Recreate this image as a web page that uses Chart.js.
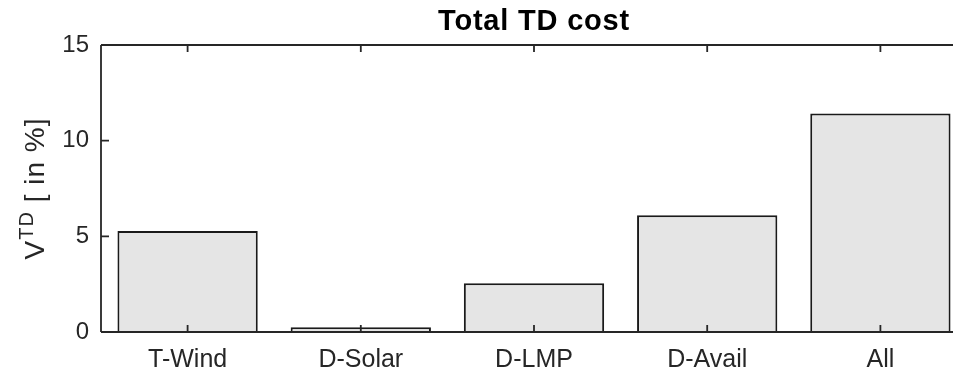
<!DOCTYPE html>
<html>
<head>
<meta charset="utf-8">
<script src="https://cdn.jsdelivr.net/npm/chart.js@4/dist/chart.umd.min.js"></script>
<style>
  html, body { margin: 0; padding: 0; background: #ffffff; }
  body { width: 953px; height: 374px; overflow: hidden; }
  #wrap { width: 968px; height: 374px; }
</style>
</head>
<body>
<div id="wrap"><canvas id="c" width="968" height="374"></canvas></div>
<script>
// Scenario names along the horizontal axis
const categories = ['T-Wind', 'D-Solar', 'D-LMP', 'D-Avail', 'All'];
// Relative total TD cost per scenario, in percent
const costValues = [5.28, 0.25, 2.55, 6.1, 11.42];
// Value axis ticks
const yTicks = [0, 5, 10, 15];
const chartTitle = 'Total TD cost';

const AXIS_COLOR = '#262626';
const FONT = '"Liberation Sans", Arial, Helvetica, sans-serif';

// Boxed axes with inward tick marks, drawn from the scales
const boxAxes = {
  id: 'boxAxes',
  afterDatasetsDraw(chart) {
    const { ctx, chartArea: a, scales: { x, y } } = chart;
    ctx.save();
    ctx.strokeStyle = AXIS_COLOR;
    ctx.lineWidth = 1.8;
    ctx.beginPath();
    ctx.moveTo(a.left, a.top); ctx.lineTo(a.left, a.bottom);
    ctx.moveTo(a.left, a.bottom); ctx.lineTo(a.right, a.bottom);
    ctx.moveTo(a.left, a.top); ctx.lineTo(a.right, a.top);
    ctx.moveTo(a.right, a.top); ctx.lineTo(a.right, a.bottom);
    // x ticks, bottom and top
    x.ticks.forEach((t, i) => {
      const px = x.getPixelForTick(i);
      ctx.moveTo(px, a.bottom); ctx.lineTo(px, a.bottom - 7);
      ctx.moveTo(px, a.top); ctx.lineTo(px, a.top + 7);
    });
    // y ticks, left and right
    yTicks.forEach(v => {
      const py = y.getPixelForValue(v);
      ctx.moveTo(a.left, py); ctx.lineTo(a.left + 8, py);
      ctx.moveTo(a.right, py); ctx.lineTo(a.right - 8, py);
    });
    ctx.stroke();
    ctx.restore();
  }
};

// Title centred over the plot area, and the rotated y label with a superscript
const labels = {
  id: 'labels',
  afterDraw(chart) {
    const { ctx, chartArea: a } = chart;
    ctx.save();
    ctx.fillStyle = '#000000';
    ctx.font = 'bold 29px ' + FONT;
    ctx.letterSpacing = '0.8px';
    ctx.textAlign = 'center';
    ctx.textBaseline = 'alphabetic';
    ctx.fillText(chartTitle, (a.left + a.right) / 2, 30);
    ctx.restore();

    const main = '28px ' + FONT;
    const sup = '20px ' + FONT;
    const parts = [
      { t: 'V', f: main, dy: 0 },
      { t: 'TD', f: sup, dy: -11 },
      { t: ' [ in %]', f: main, dy: 0 }
    ];
    ctx.save();
    ctx.letterSpacing = '1px';
    let total = 0;
    parts.forEach(p => { ctx.font = p.f; p.w = ctx.measureText(p.t).width; total += p.w; });
    ctx.translate(44, (a.top + a.bottom) / 2);
    ctx.rotate(-Math.PI / 2);
    ctx.fillStyle = AXIS_COLOR;
    ctx.textBaseline = 'alphabetic';
    ctx.textAlign = 'left';
    let xPos = -total / 2;
    parts.forEach(p => { ctx.font = p.f; ctx.fillText(p.t, xPos, p.dy); xPos += p.w; });
    ctx.restore();
  }
};

new Chart(document.getElementById('c'), {
  type: 'bar',
  data: {
    labels: categories,
    datasets: [{
      data: costValues,
      backgroundColor: '#e5e5e5',
      borderColor: '#1a1a1a',
      borderWidth: 2,
      categoryPercentage: 0.81,
      barPercentage: 1.0
    }]
  },
  options: {
    responsive: false,
    animation: false,
    devicePixelRatio: 1,
    layout: { padding: { left: 0, right: 1, top: 45, bottom: 0 } },
    plugins: {
      legend: { display: false },
      tooltip: { enabled: false },
      title: { display: false }
    },
    scales: {
      x: {
        offset: true,
        grid: { display: false, drawTicks: false },
        border: { display: false },
        ticks: {
          color: AXIS_COLOR,
          font: { family: FONT, size: 25 },
          padding: 13,
          maxRotation: 0
        },
        afterFit(scale) { scale.height = 42; }
      },
      y: {
        min: 0,
        max: 15,
        grid: { display: false, drawTicks: false },
        border: { display: false },
        afterBuildTicks(scale) { scale.ticks = yTicks.map(v => ({ value: v })); },
        ticks: {
          color: AXIS_COLOR,
          font: { family: FONT, size: 24 },
          padding: 12
        },
        afterFit(scale) { scale.width = 101; }
      }
    }
  },
  plugins: [boxAxes, labels]
});
</script>
</body>
</html>
